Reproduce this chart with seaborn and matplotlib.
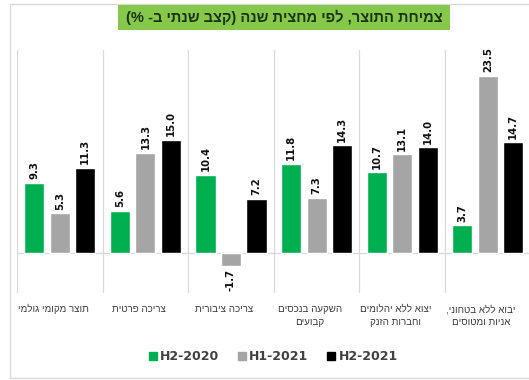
import matplotlib
matplotlib.use("Agg")
import matplotlib.pyplot as plt
from matplotlib.patches import Rectangle
from matplotlib.lines import Line2D
import seaborn as sns
import pandas as pd

# Data -----------------------------------------------------------------
title = "צמיחת התוצר, לפי מחצית שנה (קצב שנתי ב- %)"
categories = [
    "תוצר מקומי גולמי",
    "צריכה פרטית",
    "צריכה ציבורית",
    "השקעה בנכסים\nקבועים",
    "יצוא ללא יהלומים\nוחברות הזנק",
    "יבוא ללא בטחוני,\nאניות ומטוסים",
]
periods = ["H2-2020", "H1-2021", "H2-2021"]
h2_2020 = [9.3, 5.6, 10.4, 11.8, 10.7, 3.7]
h1_2021 = [5.3, 13.3, -1.7, 7.3, 13.1, 23.5]
h2_2021 = [11.3, 15.0, 7.2, 14.3, 14.0, 14.7]
colors = ["#00B050", "#A5A5A5", "#000000"]

HEB = ["Liberation Sans", "DejaVu Sans"]


def rtl(text):
    """Lay out right-to-left text line by line for a left-to-right renderer."""
    swap = str.maketrans("()", ")(")
    return "\n".join(line[::-1].translate(swap) for line in text.split("\n"))


df = pd.DataFrame({
    "category": categories * 3,
    "period": [p for p in periods for _ in categories],
    "value": h2_2020 + h1_2021 + h2_2021,
})

sns.set_theme(style="white")
plt.rcParams["font.family"] = HEB

W, H = 529, 380
fig = plt.figure(figsize=(W / 100, H / 100), dpi=100)
fig.patch.set_facecolor("white")

# axes box in pixels: left 17, top 50, bottom 293, category width ~85.6 px
ax = fig.add_axes([17 / W, 1 - 293 / H, 6 * 85.6 / W, (293 - 50) / H])
sns.barplot(data=df, x="category", y="value", hue="period", order=categories,
            hue_order=periods, palette=colors, width=0.894, gap=0.215,
            saturation=1, legend=False, ax=ax)

ax.set_xlim(-0.5, 5.5)
ax.set_ylim(-5.3, 26.9)
for s in ax.spines.values():
    s.set_visible(False)
ax.set_yticks([])
ax.set_xlabel("")
ax.set_ylabel("")

# separators between categories and zero line
for b in range(7):
    ax.axvline(b - 0.5, color="#D9D9D9", lw=0.9, zorder=0)
ax.axhline(0, color="#D9D9D9", lw=0.9, zorder=0)

for cont in ax.containers:
    ax.bar_label(cont, fmt="%.1f", rotation=90, padding=2.5, fontsize=7.3,
                 fontweight="bold", color="#111111", family="DejaVu Sans")

ax.set_xticks([i - 0.08 for i in range(len(categories))])
ax.set_xticklabels([rtl(c) for c in categories], fontsize=7, color="#3A3A3A",
                   linespacing=1.35)
ax.tick_params(axis="x", length=0, pad=8)

# title on a green band
fig.patches.append(Rectangle((118 / W, 1 - 30 / H), (450 - 118) / W, 25 / H,
                             transform=fig.transFigure, facecolor="#86C94A",
                             edgecolor="none", zorder=1))
fig.text(284 / W, 1 - 17.5 / H, rtl(title), ha="center", va="center",
         fontsize=10.5, fontweight="bold", color="#1A3310", zorder=2)

# figure border
fig.patches.append(Rectangle((9.5 / W, 1 - 378 / H), (540 - 9.5) / W, (378 - 4) / H,
                             transform=fig.transFigure, facecolor="none",
                             edgecolor="#D9D9D9", lw=1, zorder=0))

handles = [Line2D([], [], marker="s", ls="", markersize=6, color=c) for c in colors]
fig.legend(handles, periods, loc="center", bbox_to_anchor=(272 / W, 1 - 357 / H),
           ncol=3, frameon=False, handletextpad=0.1, columnspacing=1.3,
           handlelength=1.0, prop={"size": 9, "weight": "bold", "family": "DejaVu Sans"},
           labelcolor="#404040")

fig.savefig("out.png", dpi=100)
